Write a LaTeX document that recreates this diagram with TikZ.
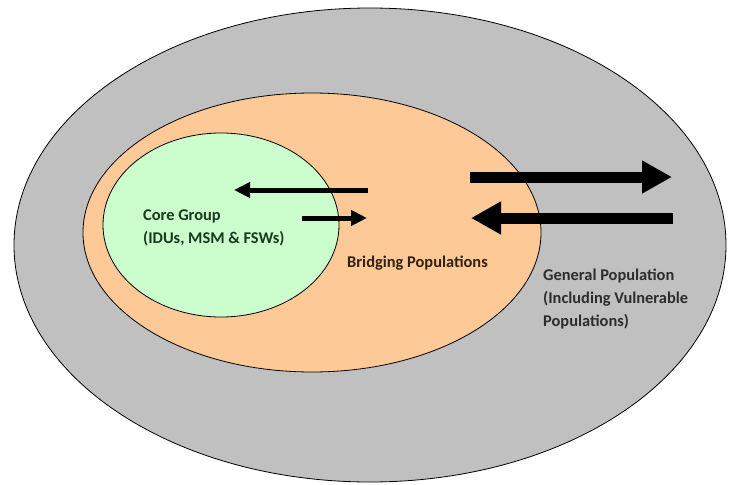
\documentclass[tikz,border=0pt]{standalone}
\usepackage{fontspec}
\setmainfont{Carlito}
\usepackage{tikz}
\usetikzlibrary{shapes,arrows.meta,positioning}

\definecolor{generalfill}{RGB}{192,192,192}
\definecolor{bridgefill}{RGB}{252,201,151}
\definecolor{corefill}{RGB}{204,254,205}
\definecolor{coretext}{RGB}{22,58,32}
\definecolor{bridgetext}{RGB}{52,32,16}
\definecolor{generaltext}{RGB}{45,45,45}

\tikzset{
	popring/.style={ellipse, draw=black, line width=0.8pt, inner sep=0pt},
	poplabel/.style={font=\fontsize{16.4}{23}\selectfont\bfseries, align=left, inner sep=0pt},
	flowthin/.style={-{Triangle[length=16pt,width=15pt]}, line width=5pt},
	flowthick/.style={-{Triangle[length=30pt,width=31pt]}, line width=11pt}
}

\begin{document}
\begin{tikzpicture}[x=1pt,y=-1pt]
				\useasboundingbox (0,0) rectangle (729,485);
				% population rings
				\node (general) [popring, fill=generalfill, minimum width=712pt, minimum height=474pt] at (370,245) {};
				\node (bridge) [popring, fill=bridgefill, minimum width=458pt, minimum height=279pt] at (312,232.5) {};
				\node (core) [popring, fill=corefill, minimum width=236pt, minimum height=184pt] at (221,225) {};
				% labels
				\node (corelabel) [poplabel, anchor=west, text=coretext] at (143,227.5) {Core Group\\(IDUs, MSM \& FSWs)};
				\node (bridgelabel) [poplabel, anchor=west, text=bridgetext] at (347,263) {Bridging Populations};
				\node (generallabel) [poplabel, anchor=west, text=generaltext] at (543,299.5) {General Population\\(Including Vulnerable\\Populations)};
				% flow ends
				\coordinate (bridgeoutA) at (368,190);
				\coordinate (coreinA) at (234,190);
				\coordinate (coreoutB) at (302,218);
				\coordinate (bridgeinB) at (367,218);
				\coordinate (bridgeoutC) at (470,177);
				\coordinate (generalinC) at (672,177);
				\coordinate (generaloutD) at (673,218);
				\coordinate (bridgeinD) at (471,218);
				% flows
				\draw [flowthin] (bridgeoutA) -- (coreinA);
				\draw [flowthin] (coreoutB) -- (bridgeinB);
				\draw [flowthick] (bridgeoutC) -- (generalinC);
				\draw [flowthick] (generaloutD) -- (bridgeinD);
				\end{tikzpicture}
\end{document}
